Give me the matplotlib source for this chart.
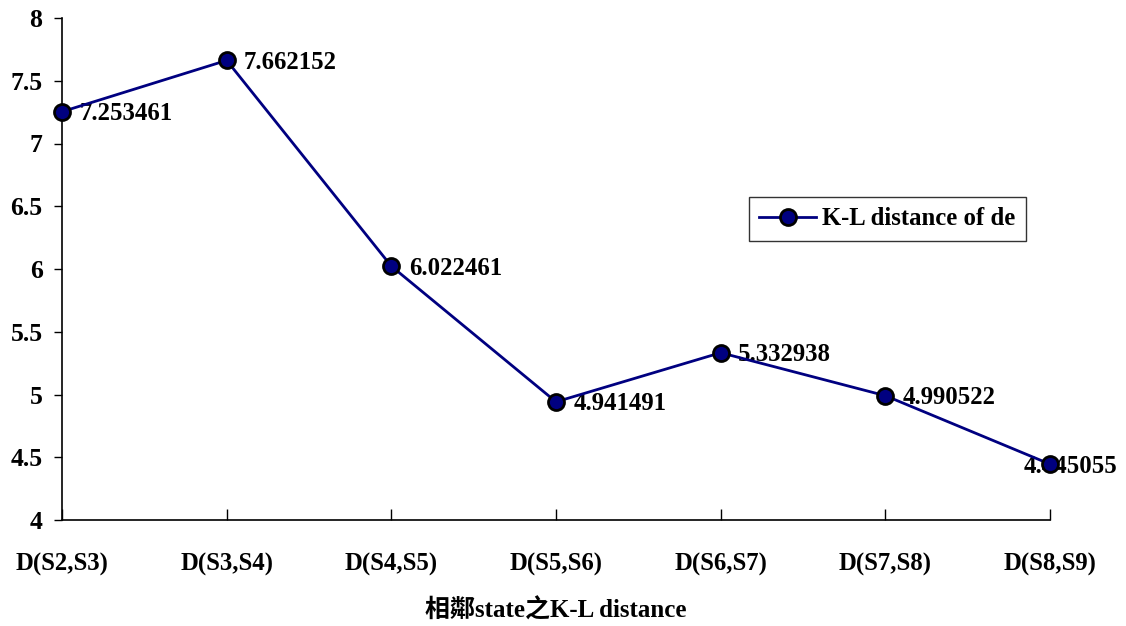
import matplotlib
matplotlib.use("Agg")
import matplotlib.pyplot as plt

categories = ["D(S2,S3)", "D(S3,S4)", "D(S4,S5)", "D(S5,S6)", "D(S6,S7)", "D(S7,S8)", "D(S8,S9)"]
kl_values = [7.253461, 7.662152, 6.022461, 4.941491, 5.332938, 4.990522, 4.445055]
y_ticks = [4, 4.5, 5, 5.5, 6, 6.5, 7, 7.5, 8]
y_tick_labels = ["4", "4.5", "5", "5.5", "6", "6.5", "7", "7.5", "8"]
series_name = "K-L distance of de"
x_title = "相鄰state之K-L distance"

serif = ["Liberation Serif", "Noto Sans CJK TC"]
plt.rcParams["font.family"] = serif
plt.rcParams["font.weight"] = "bold"

fig = plt.figure(figsize=(11.26, 6.26), dpi=100)
ax = fig.add_axes([62 / 1126, 106 / 626, 988 / 1126, 502 / 626])

x = list(range(len(categories)))
ax.plot(x, kl_values, color="#000080", lw=2.0, marker="o", ms=11.5,
        markerfacecolor="#000080", markeredgecolor="black", markeredgewidth=2.0,
        clip_on=False, zorder=3, label=series_name)

for i, v in enumerate(kl_values):
    dx = 12.5 if i < len(kl_values) - 1 else -19
    ax.annotate(f"{v:.6f}", (i, v), xytext=(dx, -1.5), textcoords="offset points",
                ha="left", va="center", fontsize=17.8, fontweight="bold",
                family=serif, zorder=2, annotation_clip=False)

ax.set_xlim(0, len(categories) - 1)
ax.set_ylim(4, 8)
ax.set_yticks(y_ticks)
ax.set_yticklabels(y_tick_labels, fontsize=18.5, fontweight="bold")
ax.set_xticks(x)
ax.set_xticklabels(categories, fontsize=17.8, fontweight="bold")

for side in ("top", "right"):
    ax.spines[side].set_visible(False)
for side in ("left", "bottom"):
    ax.spines[side].set_linewidth(1.2)
    ax.spines[side].set_color("black")

ax.tick_params(axis="y", direction="out", length=6, width=1, pad=8)
ax.tick_params(axis="x", direction="in", length=8, width=1, pad=24)

ax.set_xlabel(x_title, fontsize=18, fontweight="bold", labelpad=16, family=serif)

leg = ax.legend(loc="upper left", bbox_to_anchor=(0.6953, 0.6434), frameon=True,
                fancybox=False, edgecolor="black", handlelength=2.3,
                prop={"family": serif, "size": 17.8, "weight": "bold"},
                borderpad=0.42, handletextpad=0.25, borderaxespad=0.0)
leg.get_frame().set_linewidth(1.0)

fig.savefig("out.png", dpi=100, facecolor="white")
